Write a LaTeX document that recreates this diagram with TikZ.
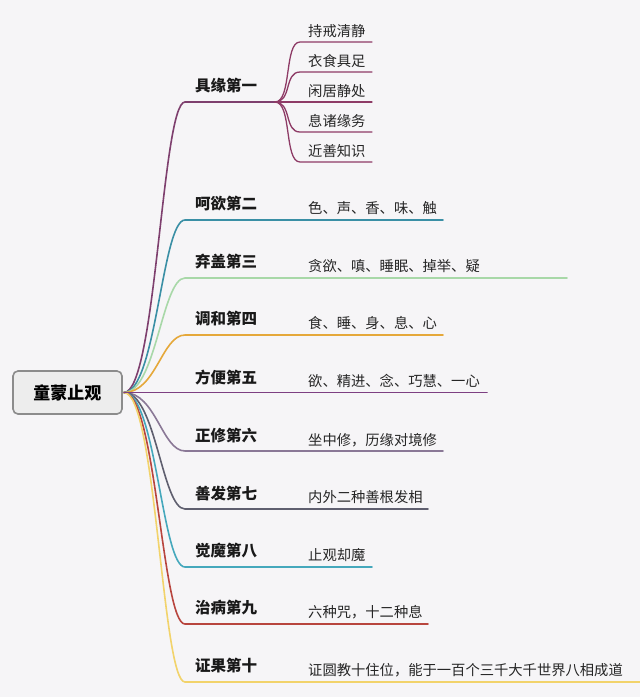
\documentclass[tikz,border=0pt]{standalone}
\usepackage{fontspec}
\setmainfont{Noto Sans CJK SC}
\begin{document}
\begin{tikzpicture}[x=1pt,y=-1pt,
  lbl/.style={anchor=west,inner sep=0pt,font=\fontsize{15.5}{18}\selectfont\bfseries,text=black!90},
  cnt/.style={anchor=west,inner sep=0pt,font=\fontsize{14.3}{17}\selectfont,text=black!85},
  br/.style={line width=1.6pt,line cap=round},
  rootbox/.style={draw=black!45,line width=1.6pt,fill=black!7,rounded corners=5pt,minimum width=109pt,minimum height=43pt,font=\fontsize{17}{20}\selectfont\bfseries}
]
\definecolor{bg}{HTML}{F6F5F7}
\definecolor{cA}{HTML}{7E3F6E}
\definecolor{cAc}{HTML}{8E3B66}
\definecolor{cB}{HTML}{3A8FA5}
\definecolor{cC}{HTML}{A8D8A8}
\definecolor{cD}{HTML}{E5A83A}
\definecolor{cE}{HTML}{7D3F82}
\definecolor{cF}{HTML}{8A7896}
\definecolor{cG}{HTML}{5F5F6F}
\definecolor{cH}{HTML}{45A8BC}
\definecolor{cI}{HTML}{B8453E}
\definecolor{cJ}{HTML}{F2D36B}
\fill[bg] (0,0) rectangle (640,697);
\useasboundingbox (0,0) rectangle (640,697);

\node[rootbox] (root) at (67.5,392.5) {童蒙止观};
\coordinate (hub) at (124,392.5);

% branch coordinates: start and end of each underline
\foreach \n/\y/\xe/\c in {1/102/275/cA,2/220/443/cB,3/278/567/cC,4/335/443/cD,6/451/443/cF,7/509/428/cG,8/567/372/cH,9/624/428/cI,10/682/640/cJ}{
  \coordinate (s\n) at (185,\y);
  \coordinate (e\n) at (\xe,\y);
  \draw[br,draw=\c] (hub) .. controls (156,392.5) and (162,\y) .. (s\n) -- (e\n);
}
\coordinate (e5) at (487,392.5);
\draw[br,draw=cE] (hub) -- (e5);

% branch labels
\node[lbl] (l1) at (195,86) {具缘第一};
\node[lbl] (l2) at (195,204) {呵欲第二};
\node[lbl] (l3) at (195,262) {弃盖第三};
\node[lbl] (l4) at (195,319) {调和第四};
\node[lbl] (l5) at (195,378) {方便第五};
\node[lbl] (l6) at (195,436) {正修第六};
\node[lbl] (l7) at (195,494) {善发第七};
\node[lbl] (l8) at (195,551) {觉魔第八};
\node[lbl] (l9) at (195,608) {治病第九};
\node[lbl] (l10) at (195,666) {证果第十};

% contents
\node[cnt] (t2) at (308,208) {色、声、香、味、触};
\node[cnt] (t3) at (308,266) {贪欲、嗔、睡眠、掉举、疑};
\node[cnt] (t4) at (308,323) {食、睡、身、息、心};
\node[cnt] (t5) at (308,381) {欲、精进、念、巧慧、一心};
\node[cnt] (t6) at (308,440) {坐中修，历缘对境修};
\node[cnt] (t7) at (308,497) {内外二种善根发相};
\node[cnt] (t8) at (308,555) {止观却魔};
\node[cnt] (t9) at (308,612) {六种咒，十二种息};
\node[cnt] (t10) at (308,670) {证圆教十住位，能于一百个三千大千世界八相成道};

% children of branch 1
\foreach \k/\y/\txt in {a/42/持戒清静,b/72/衣食具足,c/102/闲居静处,d/132/息诸缘务,e/162/近善知识}{
  \node[cnt] (c\k) at (308,\y-11) {\txt};
  \coordinate (cs\k) at (300,\y);
  \coordinate (ce\k) at (372,\y);
  \draw[br,line width=1.3pt,draw=cAc] (e1) .. controls (292,102) and (284,\y) .. (cs\k) -- (ce\k);
}
\end{tikzpicture}
\end{document}
